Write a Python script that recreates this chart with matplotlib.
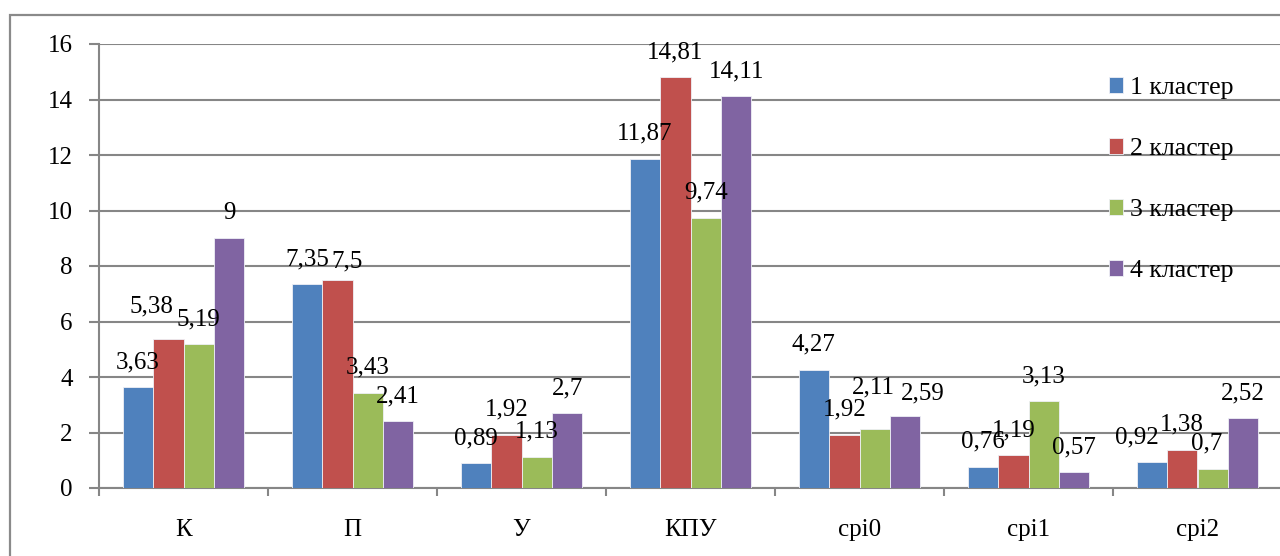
import matplotlib.pyplot as plt
import matplotlib.patches as mpatches
import numpy as np

plt.rcParams['font.family'] = ['Liberation Serif', 'DejaVu Serif']

categories = ['К', 'П', 'У', 'КПУ', 'cpi0', 'cpi1', 'cpi2']
series_names = ['1 кластер', '2 кластер', '3 кластер', '4 кластер']
cluster1 = [3.63, 7.35, 0.89, 11.87, 4.27, 0.76, 0.92]
cluster2 = [5.38, 7.5, 1.92, 14.81, 1.92, 1.19, 1.38]
cluster3 = [5.19, 3.43, 1.13, 9.74, 2.11, 3.13, 0.7]
cluster4 = [9, 2.41, 2.7, 14.11, 2.59, 0.57, 2.52]
y_ticks = [0, 2, 4, 6, 8, 10, 12, 14, 16]

colors = ['#4F81BD', '#C0504D', '#9BBB59', '#8064A2']
grid_color = '#868686'

# a few data labels sit off-centre in the original (series, category) -> (dx, dy) points
label_nudge = {(1, 0): (-12, 5), (1, 1): (7, -5), (2, 4): (-1, 12),
               (3, 4): (13, -2), (0, 6): (-11, 0), (2, 6): (-4, 0)}


def fmt(v):
    s = ('%.2f' % v).rstrip('0').rstrip('.')
    return s.replace('.', ',')


W, H = 1280, 556
fig = plt.figure(figsize=(W / 100, H / 100), dpi=100)
ax = fig.add_axes([99 / W, 68 / H, 1183 / W, 444 / H])

# outer chart frame
fig.patches.append(mpatches.Rectangle((10 / W, -0.2), 1.2, 1.2 - 15 / H,
                                      transform=fig.transFigure, fill=False,
                                      edgecolor='#8a8a8a', linewidth=1.6))

x = np.arange(len(categories))
w = 0.18
for j, vals in enumerate([cluster1, cluster2, cluster3, cluster4]):
    pos = x + (j - 1.5) * w
    ax.bar(pos, vals, width=w, color=colors[j], label=series_names[j], zorder=3,
           edgecolor='#eef0f6', linewidth=0.6)
    for i, (px, v) in enumerate(zip(pos, vals)):
        dx, dy = label_nudge.get((j, i), (0, 0))
        ax.annotate(fmt(v), (px, v), xytext=(dx, 18 + dy), textcoords='offset points',
                    ha='center', va='center', fontsize=18, zorder=4)

ax.set_xlim(-0.5, len(categories) - 0.5)
ax.set_ylim(0, 16)
ax.set_yticks(y_ticks)
ax.set_yticklabels([str(t) for t in y_ticks], fontsize=18)
ax.set_xticks(x)
ax.set_xticklabels(categories, fontsize=18)
ax.set_xticks(np.arange(len(categories) + 1) - 0.5, minor=True)
ax.tick_params(axis='x', which='major', length=0, pad=22)
ax.tick_params(axis='x', which='minor', length=6, width=1.5, color=grid_color)
ax.tick_params(axis='y', length=7, width=1.5, color=grid_color, pad=12)

ax.grid(axis='y', color=grid_color, linewidth=1.5, zorder=0)
for side in ['top', 'right']:
    ax.spines[side].set_visible(False)
for side in ['left', 'bottom']:
    ax.spines[side].set_color(grid_color)
    ax.spines[side].set_linewidth(1.5)

leg = fig.legend(loc='upper left', bbox_to_anchor=(1109 / W, 1 - 77 / H),
                 frameon=False, fontsize=18.5, handlelength=0.56, handleheight=0.56,
                 handletextpad=0.25, labelspacing=1.52, borderpad=0, borderaxespad=0)

fig.savefig('out.png', dpi=100)
